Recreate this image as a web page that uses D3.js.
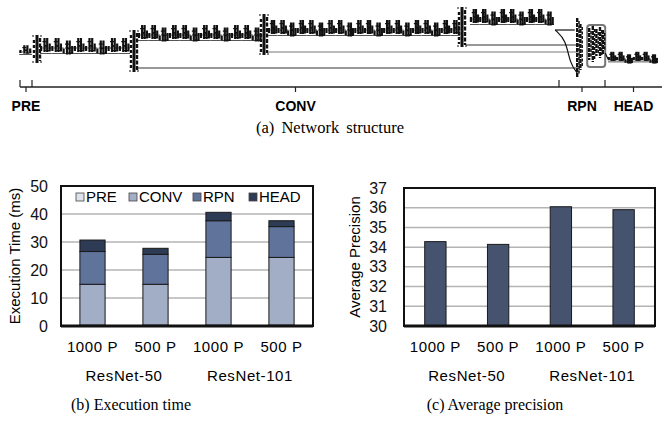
<!DOCTYPE html>
<html>
<head>
<meta charset="utf-8">
<script src="https://cdn.jsdelivr.net/npm/d3@7"></script>
<style>
  body { margin: 0; background: #fff; }
  svg { display: block; }
</style>
</head>
<body>
<svg id="svg" width="662" height="422"></svg>
<script>
// (a) network structure, positions in layer units / depth units
const stageNames  = ["pre", "res2", "res3", "res4", "res5", "head"];
const stageFrom   = [0.3, 5.5, 30, 62.5, 113, 147.5];
const stageTo     = [3.5, 28, 61, 110.5, 134, 160];
const stageLevel  = [21, 19, 12.5, 10, 4.5, 24.5];
const stageBlocks = [1, 8, 12, 20, 9, 6];
const stageSize   = [0.6, 1, 1, 1, 1, 0.65];

const downAt     = [4.75, 29, 61.5, 111];
const downTop    = [13.5, 11, 3, -0.5];
const downBottom = [27.5, 32, 23.5, 19.5];

const skipFrom  = [30, 62.5, 112];
const skipTo    = [140, 140, 140];
const skipLevel = [30, 22, 18.5];

const rpnCols   = [139.8, 140.6, 142.8, 143.7, 144.6, 145.5, 146.2];
const rpnTop    = [5, 8, 10, 9, 10.5, 9.5, 11];
const rpnBottom = [34.5, 31, 26, 27, 24, 25, 23];
const rpnBox    = [142.3, 146.8, 8.5, 29.5];

const sectionNames  = ["PRE", "CONV", "RPN", "HEAD"];
const sectionBounds = [0.5, 3.5, 135.25, 146.75, 161];

// (b) execution time (ms)
const configs   = ["1000 P", "500 P", "1000 P", "500 P"];
const backbones = ["ResNet-50", "ResNet-101"];
const phases    = ["PRE", "CONV", "RPN", "HEAD"];
const preTime   = [0.3, 0.3, 0.3, 0.3];
const convTime  = [14.6, 14.6, 24.2, 24.2];
const rpnTime   = [11.7, 10.7, 13.1, 11.0];
const headTime  = [4.1, 2.15, 3.0, 2.1];
const timeTicks = [0, 10, 20, 30, 40, 50];

// (c) average precision
const apValues = [34.28, 34.14, 36.05, 35.9];
const apTicks  = [30, 31, 32, 33, 34, 35, 36, 37];

const phaseColor = ["#dde2ec", "#a1aec6", "#5f739b", "#2e3b55"];
const apColor = "#46536f";

const svg = d3.select("#svg");
const sans = "Liberation Sans, Arial, sans-serif";
const serif = "Liberation Serif, Times New Roman, serif";

// ---------------- (a) ----------------
const xNet = d3.scaleLinear().domain([0, 160]).range([18, 658]);
const yNet = d3.scaleLinear().domain([0, 40]).range([8, 88]);
const net = svg.append("g");
const ink = "#111";

function drawBlocks(x0, x1, yc, n, k) {
  const w = (x1 - x0) / n;
  const fr = [0.1, 0.4, 0.64, 0.86];
  const hh = [5, 14, 14, 8];
  const off = [2.5, -1, -1, 1.5];
  for (let i = 0; i < n; i++) {
    const bx = x0 + i * w;
    const dy = (i % 3 === 2) ? 2.5 : 0;
    const g = net.append("g");
    g.append("line")
      .attr("x1", bx).attr("x2", bx + w)
      .attr("y1", yc + 7.5 * k).attr("y2", yc + 7.5 * k)
      .attr("stroke", "#555").attr("stroke-width", 1);
    g.append("line")
      .attr("x1", bx).attr("x2", bx + w)
      .attr("y1", yc + 2).attr("y2", yc + 2)
      .attr("stroke", ink).attr("stroke-width", 1).attr("stroke-dasharray", "1,1.5");
    fr.forEach((f, j) => {
      const h = hh[j] * k;
      g.append("rect")
        .attr("x", bx + f * w - 1.1)
        .attr("y", yc + off[j] * k - h / 2 + dy)
        .attr("width", 2.2).attr("height", h)
        .attr("fill", ink);
    });
    g.append("rect")
      .attr("x", bx + 0.4 * w).attr("y", yc - 1 * k + dy)
      .attr("width", 0.24 * w).attr("height", 1.8)
      .attr("fill", ink);
    g.append("rect")
      .attr("x", bx + 0.4 * w - 2).attr("y", yc - 5 * k + dy)
      .attr("width", 4).attr("height", 1.2)
      .attr("fill", ink);
    g.append("rect")
      .attr("x", bx + 0.64 * w - 2).attr("y", yc + 4 * k + dy)
      .attr("width", 4).attr("height", 1.2)
      .attr("fill", ink);
  }
}

function drawStack(px, top, bottom) {
  net.append("line").attr("x1", px).attr("x2", px).attr("y1", top).attr("y2", bottom)
    .attr("stroke", ink).attr("stroke-width", 3);
  net.append("line").attr("x1", px + 3).attr("x2", px + 3).attr("y1", top + 3).attr("y2", bottom - 2)
    .attr("stroke", ink).attr("stroke-width", 2.4).attr("stroke-dasharray", "4,1.5");
  net.append("line").attr("x1", px - 3).attr("x2", px - 3).attr("y1", top + 5).attr("y2", bottom - 3)
    .attr("stroke", ink).attr("stroke-width", 2.4).attr("stroke-dasharray", "3,2");
  net.append("line").attr("x1", px - 5).attr("x2", px + 5).attr("y1", top + 1).attr("y2", top + 1)
    .attr("stroke", ink).attr("stroke-width", 1.2).attr("stroke-dasharray", "2,2");
  net.append("line").attr("x1", px - 5).attr("x2", px + 5).attr("y1", bottom - 1).attr("y2", bottom - 1)
    .attr("stroke", ink).attr("stroke-width", 1.2).attr("stroke-dasharray", "2,2");
}

// skip connections (long lines to the RPN)
skipFrom.forEach((s, i) => {
  net.append("line")
    .attr("x1", xNet(s)).attr("x2", xNet(skipTo[i]))
    .attr("y1", yNet(skipLevel[i])).attr("y2", yNet(skipLevel[i]))
    .attr("stroke", i === 1 ? "#777" : "#333").attr("stroke-width", 1.2);
});

// lines joining res5 to the RPN
net.append("path")
  .attr("d", d3.line().curve(d3.curveBasis)([
    [xNet(134.3), yNet(11)], [xNet(137), yNet(16)], [xNet(138), yNet(28)], [xNet(140), yNet(33)]
  ]))
  .attr("fill", "none").attr("stroke", ink).attr("stroke-width", 1.2);
net.append("line")
  .attr("x1", xNet(134.3)).attr("x2", xNet(139.2))
  .attr("y1", yNet(11)).attr("y2", yNet(11))
  .attr("stroke", ink).attr("stroke-width", 1.2);

// stages of blocks
stageNames.forEach((s, i) => {
  drawBlocks(xNet(stageFrom[i]), xNet(stageTo[i]), yNet(stageLevel[i]), stageBlocks[i], stageSize[i]);
});

// downsampling stacks
downAt.forEach((d, i) => drawStack(xNet(d), yNet(downTop[i]), yNet(downBottom[i])));

// RPN cluster
net.append("rect")
  .attr("x", xNet(rpnBox[0])).attr("y", yNet(rpnBox[2]))
  .attr("width", xNet(rpnBox[1]) - xNet(rpnBox[0]))
  .attr("height", yNet(rpnBox[3]) - yNet(rpnBox[2]))
  .attr("rx", 3).attr("fill", "none").attr("stroke", "#777").attr("stroke-width", 2);
rpnCols.forEach((c, i) => {
  net.append("line")
    .attr("x1", xNet(c)).attr("x2", xNet(c))
    .attr("y1", yNet(rpnTop[i])).attr("y2", yNet(rpnBottom[i]))
    .attr("stroke", ink).attr("stroke-width", 2.4).attr("stroke-dasharray", "4,1");
  net.append("line")
    .attr("x1", xNet(c) + 1.8).attr("x2", xNet(c) + 1.8)
    .attr("y1", yNet(rpnTop[i]) + 3).attr("y2", yNet(rpnBottom[i]) - 3)
    .attr("stroke", ink).attr("stroke-width", 1.5).attr("stroke-dasharray", "3,1.5");
});
net.append("line")
  .attr("x1", xNet(rpnBox[1])).attr("x2", xNet(stageFrom[5]))
  .attr("y1", yNet(stageLevel[5] - 2)).attr("y2", yNet(stageLevel[5] + 1))
  .attr("stroke", ink).attr("stroke-width", 1.2);

// section bracket
const bracketY = 87;
net.append("line")
  .attr("x1", xNet(sectionBounds[0])).attr("x2", xNet(sectionBounds[sectionBounds.length - 1]))
  .attr("y1", bracketY).attr("y2", bracketY)
  .attr("stroke", "#222").attr("stroke-width", 1.5);
sectionBounds.slice(0, -1).forEach(b => {
  net.append("line").attr("x1", xNet(b)).attr("x2", xNet(b))
    .attr("y1", bracketY - 7).attr("y2", bracketY)
    .attr("stroke", "#222").attr("stroke-width", 1.2);
});
sectionNames.forEach((name, i) => {
  const mid = (sectionBounds[i] + sectionBounds[i + 1]) / 2;
  net.append("line").attr("x1", xNet(mid)).attr("x2", xNet(mid))
    .attr("y1", bracketY).attr("y2", bracketY + 5)
    .attr("stroke", "#222").attr("stroke-width", 1.2);
  net.append("text")
    .attr("x", xNet(mid)).attr("y", 111)
    .attr("text-anchor", "middle")
    .attr("font-family", sans).attr("font-weight", "bold").attr("font-size", 14)
    .text(name);
});

svg.append("text")
  .attr("x", 330).attr("y", 133).attr("text-anchor", "middle")
  .attr("font-family", serif).attr("font-size", 16.5).attr("word-spacing", 3)
  .text("(a) Network structure");

// ---------------- (b) ----------------
const bLeft = 61, bRight = 313, bTop = 186, bBottom = 326;
const xB = d3.scaleBand().domain(d3.range(configs.length))
  .range([bLeft, bRight]).paddingInner(0.6).paddingOuter(0.3);
const yB = d3.scaleLinear().domain([0, 50]).range([bBottom, bTop]);

const gB = svg.append("g");
gB.selectAll(".grid").data(timeTicks.slice(1, -1)).enter().append("line")
  .attr("x1", bLeft).attr("x2", bRight)
  .attr("y1", d => yB(d)).attr("y2", d => yB(d))
  .attr("stroke", "#b4b4b4").attr("stroke-width", 1.5);

const timeRows = configs.map((c, i) => ({
  PRE: preTime[i], CONV: convTime[i], RPN: rpnTime[i], HEAD: headTime[i], i
}));
const stacked = d3.stack().keys(phases)(timeRows);
stacked.forEach((layer, li) => {
  gB.selectAll(".bar" + li).data(layer).enter().append("rect")
    .attr("x", (d, i) => xB(i))
    .attr("width", xB.bandwidth())
    .attr("y", d => yB(d[1]))
    .attr("height", d => yB(d[0]) - yB(d[1]))
    .attr("fill", phaseColor[li])
    .attr("stroke", "#1a1a1a").attr("stroke-width", 1);
});

gB.append("rect")
  .attr("x", bLeft).attr("y", bTop).attr("width", bRight - bLeft).attr("height", bBottom - bTop)
  .attr("fill", "none").attr("stroke", "#111").attr("stroke-width", 2);
gB.append("line").attr("x1", bLeft).attr("x2", bRight).attr("y1", bBottom).attr("y2", bBottom)
  .attr("stroke", "#111").attr("stroke-width", 3);

const axB = gB.append("g").attr("transform", `translate(${bLeft},0)`)
  .call(d3.axisLeft(yB).tickValues(timeTicks).tickSize(0).tickPadding(13));
axB.select(".domain").remove();
axB.selectAll("text").attr("font-family", sans).attr("font-size", 16).attr("fill", "#111");

gB.append("text")
  .attr("transform", `translate(20,${(bTop + bBottom) / 2}) rotate(-90)`)
  .attr("text-anchor", "middle").attr("font-family", sans).attr("font-size", 15)
  .text("Execution Time (ms)");

// legend
const legX = [76, 129, 193, 249];
phases.forEach((p, i) => {
  gB.append("rect").attr("x", legX[i]).attr("y", 193).attr("width", 8).attr("height", 8)
    .attr("fill", phaseColor[i]).attr("stroke", "#444").attr("stroke-width", 0.8);
  gB.append("text").attr("x", legX[i] + 10).attr("y", 202)
    .attr("font-family", sans).attr("font-size", 15).text(p);
});

function xLabels(g, xs, centerA, centerB) {
  g.selectAll(".xl").data(configs).enter().append("text")
    .attr("x", (d, i) => xs(i) + xs.bandwidth() / 2).attr("y", 352)
    .attr("text-anchor", "middle").attr("font-family", sans).attr("font-size", 15)
    .attr("letter-spacing", 0.6).text(d => d);
  g.selectAll(".gl").data(backbones).enter().append("text")
    .attr("x", (d, i) => i === 0 ? centerA : centerB).attr("y", 381)
    .attr("text-anchor", "middle").attr("font-family", sans).attr("font-size", 15)
    .attr("letter-spacing", 0.6).text(d => d);
}
xLabels(gB, xB,
  (xB(0) + xB(1) + xB.bandwidth()) / 2,
  (xB(2) + xB(3) + xB.bandwidth()) / 2);

svg.append("text")
  .attr("x", 131).attr("y", 410).attr("text-anchor", "middle")
  .attr("font-family", serif).attr("font-size", 16).text("(b) Execution time");

// ---------------- (c) ----------------
const cLeft = 404, cRight = 655, cTop = 188, cBottom = 326;
const xC = d3.scaleBand().domain(d3.range(configs.length))
  .range([cLeft, cRight]).paddingInner(0.66).paddingOuter(0.33);
const yC = d3.scaleLinear().domain([30, 37]).range([cBottom, cTop]);

const gC = svg.append("g");
gC.selectAll(".grid").data(apTicks.slice(1, -1)).enter().append("line")
  .attr("x1", cLeft).attr("x2", cRight)
  .attr("y1", d => yC(d)).attr("y2", d => yC(d))
  .attr("stroke", "#b4b4b4").attr("stroke-width", 1.5);

gC.selectAll(".ap").data(apValues).enter().append("rect")
  .attr("x", (d, i) => xC(i)).attr("width", xC.bandwidth())
  .attr("y", d => yC(d)).attr("height", d => yC(30) - yC(d))
  .attr("fill", apColor).attr("stroke", "#1a1a1a").attr("stroke-width", 1);

gC.append("rect")
  .attr("x", cLeft).attr("y", cTop).attr("width", cRight - cLeft).attr("height", cBottom - cTop)
  .attr("fill", "none").attr("stroke", "#111").attr("stroke-width", 2);
gC.append("line").attr("x1", cLeft).attr("x2", cRight).attr("y1", cBottom).attr("y2", cBottom)
  .attr("stroke", "#111").attr("stroke-width", 3);

const axC = gC.append("g").attr("transform", `translate(${cLeft},0)`)
  .call(d3.axisLeft(yC).tickValues(apTicks).tickFormat(d3.format("d")).tickSize(0).tickPadding(17));
axC.select(".domain").remove();
axC.selectAll("text").attr("font-family", sans).attr("font-size", 16).attr("fill", "#111");

gC.append("text")
  .attr("transform", `translate(360,${(cTop + cBottom) / 2}) rotate(-90)`)
  .attr("text-anchor", "middle").attr("font-family", sans).attr("font-size", 15)
  .text("Average Precision");

xLabels(gC, xC,
  (xC(0) + xC(1) + xC.bandwidth()) / 2,
  (xC(2) + xC(3) + xC.bandwidth()) / 2);

svg.append("text")
  .attr("x", 495).attr("y", 410).attr("text-anchor", "middle")
  .attr("font-family", serif).attr("font-size", 16).text("(c) Average precision");
</script>
</body>
</html>
